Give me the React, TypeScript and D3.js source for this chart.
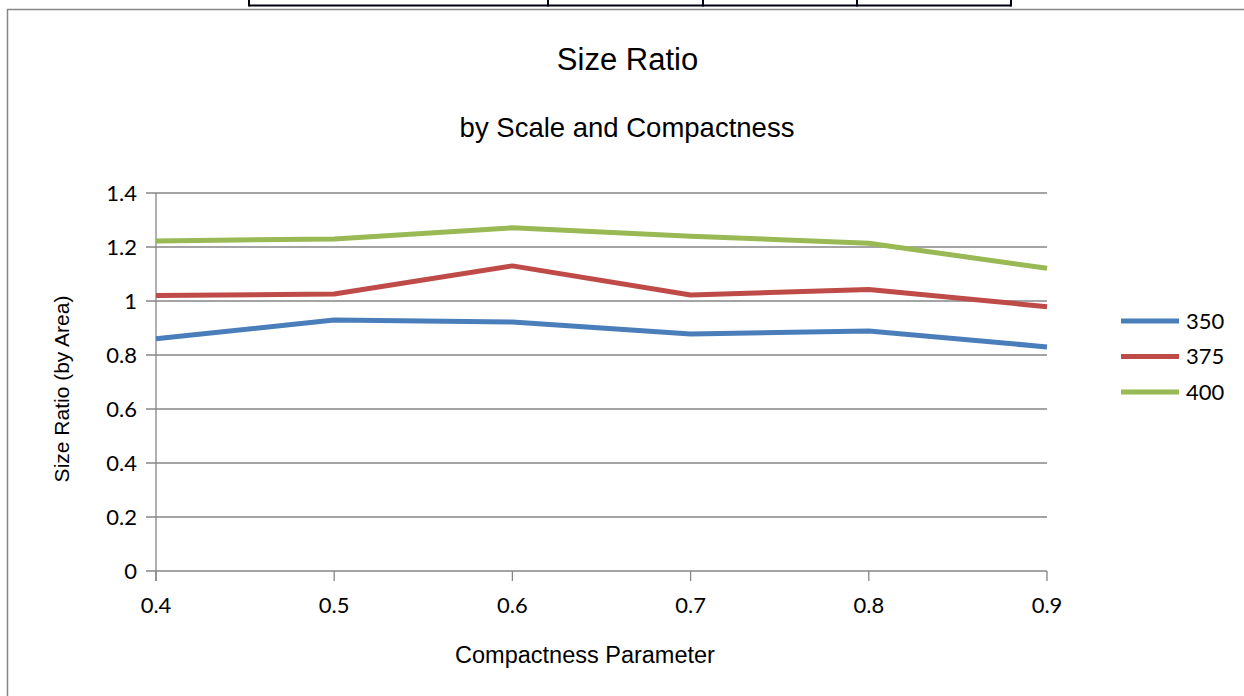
import React from "react";
import * as d3 from "d3";

// Compactness parameter values along the x axis
const compactness = [0.4, 0.5, 0.6, 0.7, 0.8, 0.9];
// Size ratio (by area) for each scale
const scale350 = [0.86, 0.93, 0.922, 0.878, 0.889, 0.83];
const scale375 = [1.02, 1.026, 1.13, 1.022, 1.043, 0.979];
const scale400 = [1.222, 1.23, 1.271, 1.24, 1.214, 1.121];
const seriesNames = ["350", "375", "400"];
const seriesColors = ["#4A7EBB", "#BE4B48", "#98B954"];
const yTicks = [0, 0.2, 0.4, 0.6, 0.8, 1, 1.2, 1.4];
// Column dividers of the table above the chart
const tableCols = [249, 548, 703, 857, 1011];

const W = 1244;
const H = 696;
const plot = { left: 156, right: 1047, top: 193, bottom: 571 };
const tickFont = "Lato, 'Open Sans', sans-serif";
const labelFont = "'Liberation Sans', Arial, sans-serif";
const grid = "#868686";

export default function App() {
  const x = d3.scaleLinear().domain([0.4, 0.9]).range([plot.left, plot.right]);
  const y = d3.scaleLinear().domain([0, 1.4]).range([plot.bottom, plot.top]);
  const series = [scale350, scale375, scale400];
  const line = d3
    .line<number>()
    .x((_, i) => x(compactness[i]))
    .y((v) => y(v));

  return (
    <svg
      width={W}
      height={H}
      style={{ position: "absolute", left: 0, top: 0, background: "#fff" }}
    >
      {/* table fragment above chart */}
      <line x1={tableCols[0]} x2={tableCols[tableCols.length - 1]} y1={5.5} y2={5.5} stroke="#000010" strokeWidth={2} />
      {tableCols.map((c) => (
        <line key={c} x1={c} x2={c} y1={0} y2={6.5} stroke="#000010" strokeWidth={2} />
      ))}

      {/* chart frame */}
      <path d={`M7.5,${H} V9.5 H${W}`} fill="none" stroke={grid} strokeWidth={1.5} />

      <text x={627.5} y={70} textAnchor="middle" fontFamily={labelFont} fontSize={31} fill="#000">
        Size Ratio
      </text>
      <text x={627} y={137} textAnchor="middle" fontFamily={labelFont} fontSize={27.5} fill="#000">
        by Scale and Compactness
      </text>

      {/* gridlines and y ticks */}
      {yTicks.map((t) => (
        <g key={t}>
          <line x1={plot.left - 10} x2={plot.right} y1={y(t)} y2={y(t)} stroke={grid} strokeWidth={1.3} />
          <text
            x={137}
            y={y(t)}
            dy="0.36em"
            textAnchor="end"
            fontFamily={tickFont}
            fontSize={22}
            fill="#000"
          >
            {String(t)}
          </text>
        </g>
      ))}

      {/* axes */}
      <line x1={plot.left} x2={plot.left} y1={plot.top} y2={plot.bottom + 10} stroke={grid} strokeWidth={1.3} />
      {compactness.map((c) => (
        <g key={c}>
          <line x1={x(c)} x2={x(c)} y1={plot.bottom} y2={plot.bottom + 10} stroke={grid} strokeWidth={1.3} />
          <text
            x={x(c)}
            y={613}
            textAnchor="middle"
            fontFamily={tickFont}
            fontSize={22}
            fill="#000"
          >
            {c.toFixed(1)}
          </text>
        </g>
      ))}

      <text
        transform={`translate(69,389) rotate(-90)`}
        textAnchor="middle"
        fontFamily={labelFont}
        fontSize={21}
        fill="#000"
      >
        Size Ratio (by Area)
      </text>
      <text x={585} y={663} textAnchor="middle" fontFamily={labelFont} fontSize={23.5} fill="#000">
        Compactness Parameter
      </text>

      {/* series lines */}
      {series.map((s, i) => (
        <path
          key={seriesNames[i]}
          d={line(s) ?? ""}
          fill="none"
          stroke={seriesColors[i]}
          strokeWidth={5}
          strokeLinejoin="round"
        />
      ))}

      {/* legend */}
      {seriesNames.map((n, i) => (
        <g key={n} transform={`translate(0,${321 + i * 35.5})`}>
          <line x1={1121} x2={1179} y1={0} y2={0} stroke={seriesColors[i]} strokeWidth={5} />
          <text x={1186} y={0} dy="0.36em" fontFamily={tickFont} fontSize={22} fill="#000">
            {n}
          </text>
        </g>
      ))}
    </svg>
  );
}
